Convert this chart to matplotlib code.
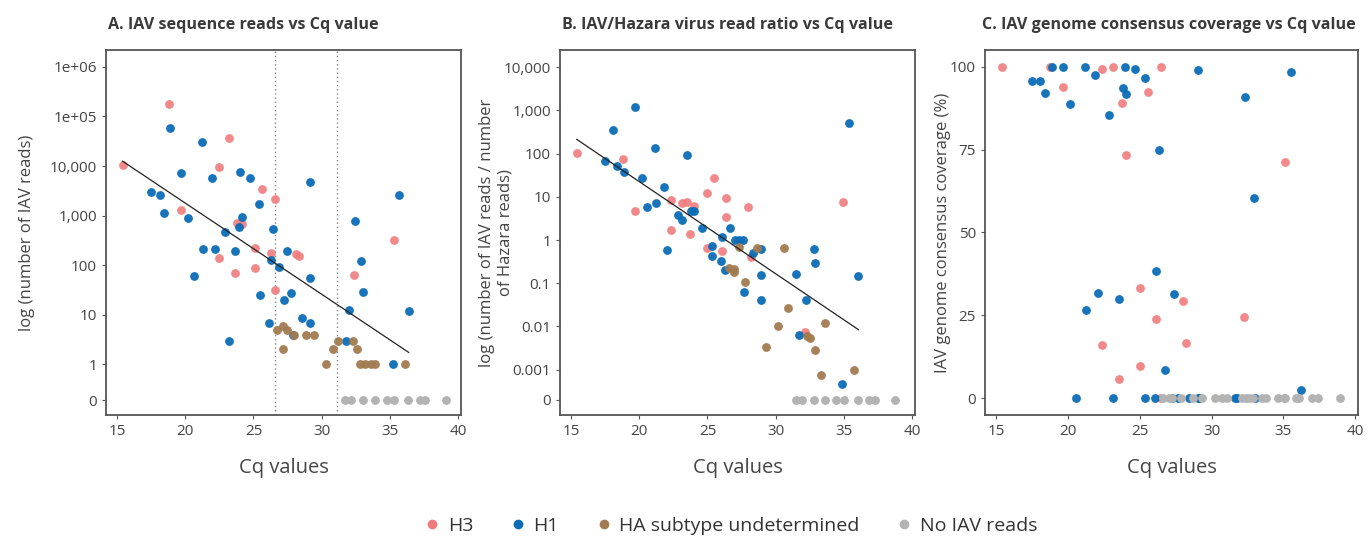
import numpy as np
import matplotlib.pyplot as plt
from matplotlib.lines import Line2D

plt.rcParams['font.family'] = ['Open Sans', 'DejaVu Sans']

# colours for the four groups
c_h3 = "#f07b7d"
c_h1 = "#0b6cb7"
c_und = "#a27a4f"
c_none = "#b3b3b3"

# ---- panel A: IAV reads vs Cq ----
a_h3_cq = [15.42, 18.83, 23.23, 22.45, 25.65, 26.55, 19.71, 23.81, 24.13, 35.26,
           22.45, 25.13, 26.26, 28.14, 28.36, 23.64, 25.13, 32.36, 26.55]
a_h3_reads = [10700, 178000, 37000, 9400, 3400, 2200, 1270, 720, 680, 330,
              140, 218, 173, 166, 152, 71, 87, 63, 31]
a_h1_cq = [18.9, 21.23, 19.71, 21.94, 24.03, 24.74, 29.16, 35.68, 17.51, 18.13,
           18.42, 20.22, 25.43, 24.13, 23.94, 22.93, 26.43, 32.46, 21.32, 22.15,
           23.64, 27.45, 26.26, 26.84, 20.62, 29.16, 32.9, 25.45, 27.26, 27.75,
           33.01, 31.97, 36.37, 26.16, 28.55, 29.16, 27.89, 23.23, 31.77, 35.2]
a_h1_reads = [59000, 31000, 7300, 5800, 7600, 5800, 4800, 2550, 2950, 2550,
              1140, 890, 1700, 950, 590, 470, 535, 775, 210, 210,
              192, 195, 128, 94, 60, 56, 124, 25, 20, 27.6,
              29, 12.7, 11.8, 7, 8.8, 7, 4, 3, 3, 1]
a_und_cq = [26.75, 27.16, 27.45, 27.97, 28.85, 29.45, 27.16, 31.16, 30.85, 32.29,
            32.58, 30.3, 32.77, 33.2, 33.62, 33.93, 36.1]
a_und_reads = [5, 6, 5, 4, 4, 4, 2, 3, 2, 3, 2, 1, 1, 1, 1, 1, 1]
a_none_cq = [31.72, 32.14, 33.0, 33.88, 34.78, 35.26, 36.3, 37.22, 37.59, 39.1]
a_fit = (6.934, -0.184)   # log10(reads) = a + b * Cq
a_cutoffs = [26.55, 31.15]

# ---- panel B: IAV / Hazara read ratio vs Cq ----
b_h3_cq = [15.43, 18.8, 19.66, 22.35, 22.35, 23.12, 23.52, 24.02, 23.72, 24.98,
           25.49, 26.38, 26.38, 24.98, 26.1, 28.16, 27.97, 34.96, 32.12]
b_h3_ratio = [104, 77, 4.6, 8.3, 1.7, 7.1, 7.8, 6.2, 1.35, 12,
              28, 9.2, 3.45, 0.66, 0.55, 0.4, 5.9, 7.5, 0.0074]
b_h1_cq = [17.5, 18.1, 18.41, 18.87, 19.66, 20.17, 20.57, 21.17, 21.25, 21.84,
           22.04, 22.83, 23.14, 23.52, 23.8, 24.02, 24.6, 26.67, 26.1, 27.05,
           27.3, 27.59, 25.3, 28.35, 28.93, 32.8, 32.89, 35.37, 25.3, 26.0,
           26.29, 28.95, 27.66, 28.95, 31.52, 32.22, 31.69, 34.88, 36.06]
b_h1_ratio = [68, 350, 52, 38, 1180, 27, 5.9, 135, 7.3, 17,
              0.59, 3.8, 2.9, 93, 4.7, 4.7, 1.9, 1.86, 1.2, 1.0,
              1.0, 1.0, 0.71, 0.49, 0.63, 0.63, 0.3, 500, 0.43, 0.32,
              0.2, 0.155, 0.064, 0.04, 0.167, 0.04, 0.0063, 0.00047, 0.15]
b_und_cq = [27.3, 28.64, 30.63, 26.58, 26.98, 26.98, 27.77, 30.92, 30.13, 33.59,
            32.29, 32.53, 29.26, 32.89, 33.32, 35.75]
b_und_ratio = [0.7, 0.66, 0.66, 0.23, 0.21, 0.18, 0.107, 0.027, 0.0102, 0.012,
               0.006, 0.0053, 0.0033, 0.0029, 0.00077, 0.00098]
b_none_cq = [31.52, 31.93, 32.77, 33.61, 34.45, 34.98, 35.99, 36.85, 37.24, 38.75]
b_fit = (5.624, -0.2135)  # log10(ratio) = a + b * Cq

# ---- panel C: genome coverage vs Cq ----
c_h3_cq = [15.37, 18.75, 19.65, 22.34, 23.15, 23.73, 25.53, 26.46, 24.03, 35.12,
           25.02, 28.03, 26.13, 32.24, 22.34, 28.22, 25.02, 23.54, 26.48]
c_h3_cov = [100, 100, 93.8, 99.4, 100, 88.9, 92.4, 100, 73.5, 71.3,
            33.2, 29.4, 23.8, 24.4, 16.2, 16.7, 9.7, 5.8, 0]
c_h1_cq = [17.45, 18.06, 18.36, 18.84, 19.65, 20.14, 21.16, 21.85, 22.85, 23.96,
           23.84, 24.05, 24.63, 25.35, 26.32, 29.05, 32.34, 35.53, 32.94, 26.13,
           22.06, 27.34, 23.54, 21.27, 26.74, 36.23, 20.56, 23.15, 25.35, 26.04,
           27.2, 27.66, 28.43, 29.03, 29.1, 31.62, 31.8, 33.03]
c_h1_cov = [95.8, 95.8, 92, 100, 99.8, 88.6, 100, 97.5, 85.3, 100,
            93.5, 91.7, 99.2, 96.5, 74.8, 99.1, 90.9, 98.5, 60.4, 38.3,
            31.8, 31.4, 30.1, 26.6, 8.5, 2.4, 0, 0, 0, 0,
            0, 0, 0, 0, 0, 0, 0, 0]
c_none_cq = [26.62, 27.06, 27.24, 27.87, 28.68, 29.35, 30.23, 30.72, 31.06, 32.1,
             32.4, 32.6, 32.9, 33.5, 33.8, 34.65, 35.07, 35.1, 35.9, 36.1,
             37.0, 37.4, 38.94]

# where "0" sits on the log axes
zero_a = 10 ** -0.72
zero_b = 10 ** -3.7

text_col = "#444444"
spine_col = "#555555"
ms = 40

fig = plt.figure(figsize=(13.68, 5.36), dpi=100)
W, H = 1368, 536


def make_ax(l, r, t, b):
    ax = fig.add_axes([l / W, 1 - b / H, (r - l) / W, (b - t) / H])
    for s in ax.spines.values():
        s.set_color(spine_col)
        s.set_linewidth(1.3)
    ax.tick_params(colors=spine_col, labelcolor=text_col, labelsize=11,
                   length=3, width=0.8)
    ax.set_xlim(14.2, 40.2)
    ax.set_xticks([15, 20, 25, 30, 35, 40])
    ax.set_xlabel("Cq values", fontsize=14.5, color=text_col, labelpad=14)
    return ax


def fit_line(ax, cq_lists, coef):
    xs = np.concatenate([np.asarray(c) for c in cq_lists])
    x = np.array([xs.min(), xs.max()])
    ax.plot(x, 10 ** (coef[0] + coef[1] * x), color="#222222", lw=0.9, zorder=5)


# A
axA = make_ax(106, 461, 50, 415)
axA.set_yscale("log")
axA.scatter(a_h3_cq, a_h3_reads, s=ms, color=c_h3, alpha=0.9, lw=0, zorder=3)
axA.scatter(a_h1_cq, a_h1_reads, s=ms, color=c_h1, alpha=0.95, lw=0, zorder=3)
axA.scatter(a_und_cq, a_und_reads, s=ms, color=c_und, alpha=0.95, lw=0, zorder=3)
axA.scatter(a_none_cq, [zero_a] * len(a_none_cq), s=ms, color=c_none, lw=0, zorder=3)
fit_line(axA, [a_h3_cq, a_h1_cq], a_fit)
for x in a_cutoffs:
    axA.axvline(x, color="#888888", lw=1, ls=(0, (1, 2)), zorder=1)
axA.set_ylim(10 ** -1.02, 10 ** 6.34)
axA.set_yticks([zero_a, 1, 10, 100, 1e3, 1e4, 1e5, 1e6])
axA.set_yticklabels(["0", "1", "10", "100", "1,000", "10,000", "1e+05", "1e+06"])
axA.minorticks_off()
axA.set_ylabel("log (number of IAV reads)", fontsize=12, color=text_col)
axA.yaxis.set_label_coords(-0.2, 0.5)

# B
axB = make_ax(560, 915, 50, 415)
axB.set_yscale("log")
axB.scatter(b_h3_cq, b_h3_ratio, s=ms, color=c_h3, alpha=0.9, lw=0, zorder=3)
axB.scatter(b_h1_cq, b_h1_ratio, s=ms, color=c_h1, alpha=0.95, lw=0, zorder=3)
axB.scatter(b_und_cq, b_und_ratio, s=ms, color=c_und, alpha=0.95, lw=0, zorder=3)
axB.scatter(b_none_cq, [zero_b] * len(b_none_cq), s=ms, color=c_none, lw=0, zorder=3)
fit_line(axB, [b_h3_cq, b_h1_cq, b_und_cq], b_fit)
axB.set_ylim(10 ** -4.05, 10 ** 4.4)
axB.set_yticks([zero_b, 1e-3, 1e-2, 1e-1, 1, 10, 100, 1e3, 1e4])
axB.set_yticklabels(["0", "0.001", "0.01", "0.1", "1", "10", "100", "1,000", "10,000"])
axB.minorticks_off()
axB.set_ylabel("log (number of IAV reads / number\nof Hazara reads)", fontsize=12,
               color=text_col)
axB.yaxis.set_label_coords(-0.13, 0.5)

# C
axC = make_ax(985, 1358, 50, 415)
axC.scatter(c_h3_cq, c_h3_cov, s=ms, color=c_h3, alpha=0.9, lw=0, zorder=3)
axC.scatter(c_h1_cq, c_h1_cov, s=ms, color=c_h1, alpha=0.95, lw=0, zorder=3)
axC.scatter(c_none_cq, [0] * len(c_none_cq), s=ms, color=c_none, lw=0, zorder=3)
axC.set_ylim(-5, 105)
axC.set_yticks([0, 25, 50, 75, 100])
axC.set_ylabel("IAV genome consensus coverage (%)", fontsize=12, color=text_col)
axC.yaxis.set_label_coords(-0.09, 0.5)

titles = ["A. IAV sequence reads vs Cq value",
          "B. IAV/Hazara virus read ratio vs Cq value",
          "C. IAV genome consensus coverage vs Cq value"]
for ax, t, x0 in zip([axA, axB, axC], titles, [108, 562, 982]):
    fig.text(x0 / W, 1 - 25 / H, t, fontsize=11.6, fontweight="bold",
             color="#3a3a3a", ha="left", va="center")

handles = [Line2D([], [], ls="", marker="o", ms=7, color=c, markeredgewidth=0)
           for c in [c_h3, c_h1, c_und, c_none]]
fig.legend(handles, ["H3", "H1", "HA subtype undetermined", "No IAV reads"],
           loc="center", bbox_to_anchor=(730 / W, 1 - 526 / H), ncol=4, frameon=False,
           fontsize=14, handletextpad=0.3, columnspacing=1.8, labelcolor="#333333",
           handlelength=1.0)

fig.savefig("out.png", dpi=100)
